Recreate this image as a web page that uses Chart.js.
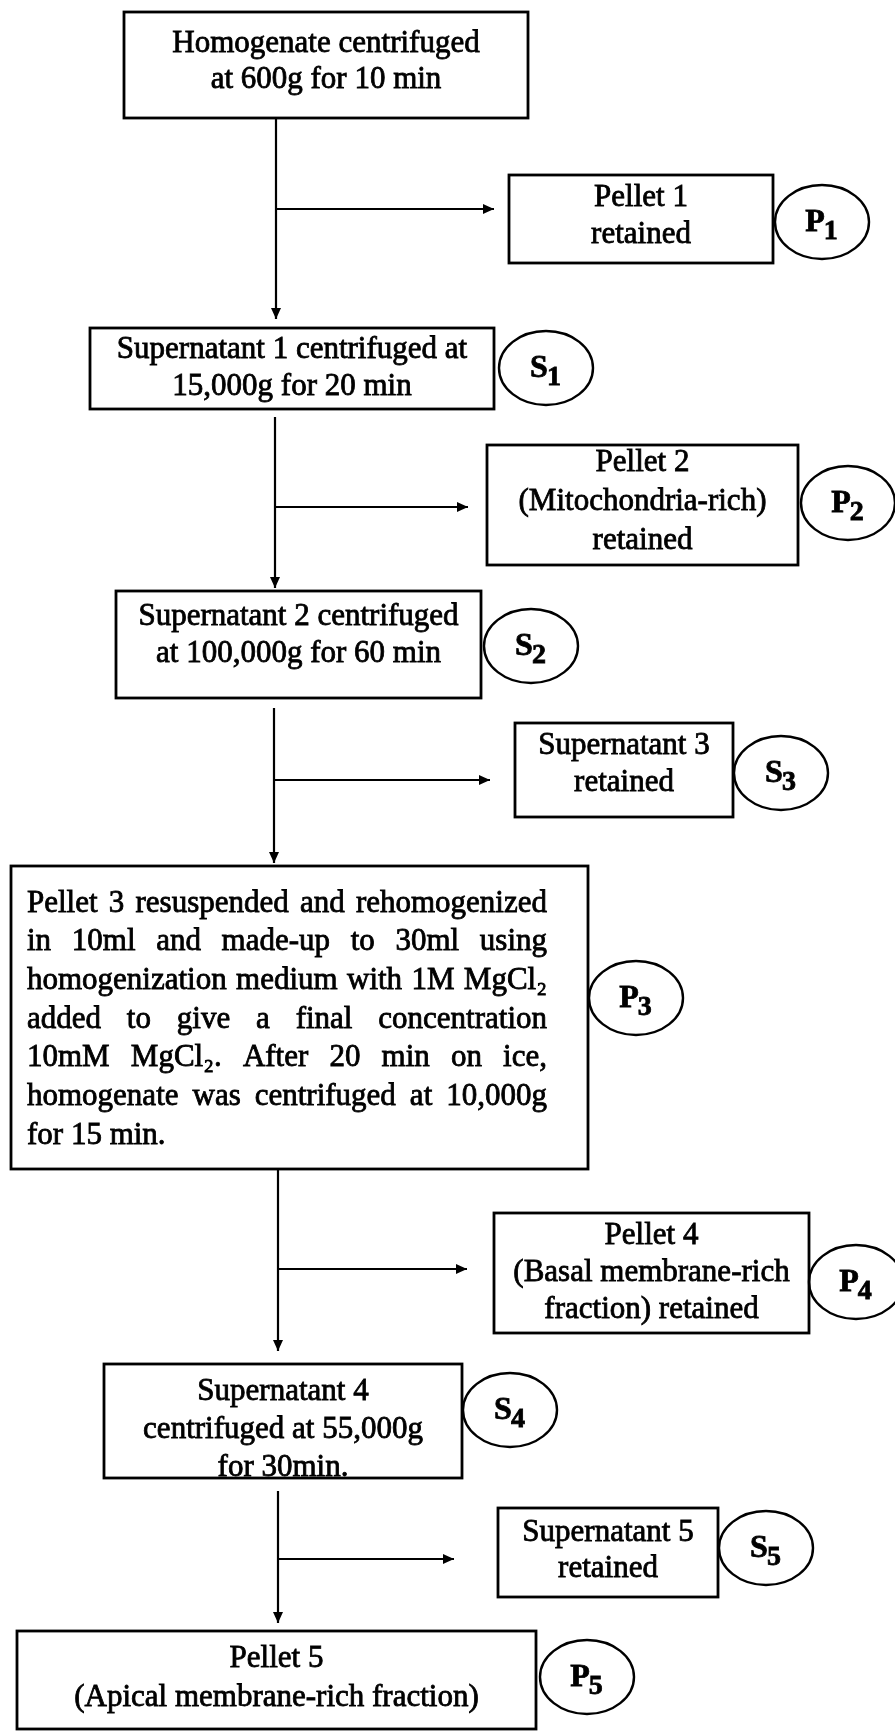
<!DOCTYPE html>
<html>
<head>
<meta charset="utf-8">
<script src="https://cdn.jsdelivr.net/npm/chart.js@4"></script>
<style>
  html, body { margin: 0; padding: 0; background: #fff; }
  canvas { display: block; }
</style>
</head>
<body>
<canvas id="flow" width="895" height="1733"></canvas>
<script>
'use strict';

// text of each box, top to bottom
var stepText = [
    ['Homogenate centrifuged', 'at 600g for 10 min'],
    ['Pellet 1', 'retained'],
    ['Supernatant 1 centrifuged at', '15,000g for 20 min'],
    ['Pellet 2', '(Mitochondria-rich)', 'retained'],
    ['Supernatant 2 centrifuged', 'at 100,000g for 60 min'],
    ['Supernatant 3', 'retained'],
    ['Pellet 3 resuspended and rehomogenized',
     'in 10ml and made-up to 30ml using',
     'homogenization medium with 1M MgCl\u2082',
     'added to give a final concentration',
     '10mM MgCl\u2082. After 20 min on ice,',
     'homogenate was centrifuged at 10,000g',
     'for 15 min.'],
    ['Pellet 4', '(Basal membrane-rich', 'fraction) retained'],
    ['Supernatant 4', 'centrifuged at 55,000g', 'for 30min.'],
    ['Supernatant 5', 'retained'],
    ['Pellet 5', '(Apical membrane-rich fraction)']
];
var justifiedStep = 6;

// fraction tags in the circles
var tagLetter = ['P', 'S', 'P', 'S', 'S', 'P', 'P', 'S', 'S', 'P'];
var tagNumber = ['1', '1', '2', '2', '3', '3', '4', '4', '5', '5'];

// layout, in chart units (x 0..895, y 0..1733 downwards)
var boxLeft   = [124, 509,  90, 487, 116, 515,   11,  494,  104,  498,   17];
var boxTop    = [ 12, 175, 328, 445, 591, 723,  866, 1213, 1364, 1508, 1631];
var boxRight  = [528, 773, 494, 798, 481, 733,  588,  809,  462,  718,  536];
var boxBottom = [118, 263, 409, 565, 698, 817, 1169, 1333, 1478, 1597, 1729];
var textShift = [ -3,  -3,   0,  -3,  -9,  -6,    2,    0,    9,   -2,   -2];
var lineGap   = [ 36,  37,  37,  39,  37,  37, 38.7,   37,   38,   36,   39];

var tagX = [822, 546, 848, 531, 781, 636,  856,  510,  766,  587];
var tagY = [222, 368, 503, 646, 773, 998, 1282, 1410, 1548, 1677];

var trunkX    = [276, 275, 274,  278,  278];
var trunkFrom = [118, 417, 708, 1169, 1491];
var trunkTo   = [319, 588, 863, 1351, 1623];
var branchY   = [209, 507, 780, 1269, 1559];
var branchTo  = [494, 468, 490,  467,  454];

var FONT = "'Liberation Serif', 'Times New Roman', serif";

// connectors as line datasets
var datasets = [];
for (var i = 0; i < trunkX.length; i++) {
    datasets.push({
        data: [{x: trunkX[i], y: trunkFrom[i]}, {x: trunkX[i], y: trunkTo[i]}],
        arrow: 'down'
    });
    datasets.push({
        data: [{x: trunkX[i], y: branchY[i]}, {x: branchTo[i], y: branchY[i]}],
        arrow: 'right'
    });
}
datasets.forEach(function (d) {
    d.showLine = true;
    d.borderColor = '#000';
    d.borderWidth = 2.2;
    d.pointRadius = 0;
    d.fill = false;
});

// scanned print looks a bit heavy, so fill and lightly stroke the text
function inkText(ctx, str, x, y) {
    ctx.fillText(str, x, y);
    ctx.lineWidth = 0.8;
    ctx.strokeText(str, x, y);
}

function justifyText(ctx, str, left, right, y) {
    var words = str.split(' ');
    var used = 0;
    words.forEach(function (w) { used += ctx.measureText(w).width; });
    var gap = (right - left - used) / (words.length - 1);
    var x = left;
    ctx.textAlign = 'left';
    words.forEach(function (w) {
        inkText(ctx, w, x, y);
        x += ctx.measureText(w).width + gap;
    });
}

var flowPlugin = {
    id: 'flow',
    afterDatasetsDraw: function (chart) {
        var ctx = chart.ctx;
        var xs = chart.scales.x;
        var ys = chart.scales.y;
        ctx.save();
        ctx.strokeStyle = '#000';
        ctx.fillStyle = '#000';

        // arrow heads
        chart.data.datasets.forEach(function (d) {
            var end = d.data[d.data.length - 1];
            var ex = xs.getPixelForValue(end.x);
            var ey = ys.getPixelForValue(end.y);
            ctx.beginPath();
            if (d.arrow === 'down') {
                ctx.moveTo(ex, ey);
                ctx.lineTo(ex - 5, ey - 11);
                ctx.lineTo(ex + 5, ey - 11);
            } else {
                ctx.moveTo(ex, ey);
                ctx.lineTo(ex - 11, ey - 5);
                ctx.lineTo(ex - 11, ey + 5);
            }
            ctx.closePath();
            ctx.fill();
        });

        // boxes and their text
        for (var b = 0; b < stepText.length; b++) {
            var l = xs.getPixelForValue(boxLeft[b]);
            var r = xs.getPixelForValue(boxRight[b]);
            var t = ys.getPixelForValue(boxTop[b]);
            var btm = ys.getPixelForValue(boxBottom[b]);
            ctx.lineWidth = 2.8;
            ctx.strokeRect(l, t, r - l, btm - t);

            var lines = stepText[b];
            var cy = (t + btm) / 2 + textShift[b];
            var y0 = cy - (lines.length - 1) * lineGap[b] / 2;
            ctx.font = '31px ' + FONT;
            ctx.textBaseline = 'middle';
            for (var k = 0; k < lines.length; k++) {
                var y = y0 + k * lineGap[b];
                if (b === justifiedStep) {
                    if (k < lines.length - 1) {
                        justifyText(ctx, lines[k], l + 16, r - 41, y);
                    } else {
                        ctx.textAlign = 'left';
                        inkText(ctx, lines[k], l + 16, y);
                    }
                } else {
                    ctx.textAlign = 'center';
                    inkText(ctx, lines[k], (l + r) / 2, y);
                }
            }
        }

        // circled tags
        for (var c = 0; c < tagLetter.length; c++) {
            var tx = xs.getPixelForValue(tagX[c]);
            var ty = ys.getPixelForValue(tagY[c]);
            var ry = Math.abs(ys.getPixelForValue(tagY[c] + 37) - ty);
            var rx = Math.abs(xs.getPixelForValue(tagX[c] + 47) - tx);
            ctx.lineWidth = 2.4;
            ctx.beginPath();
            ctx.ellipse(tx, ty, rx, ry, 0, 0, Math.PI * 2);
            ctx.stroke();

            ctx.textBaseline = 'alphabetic';
            ctx.textAlign = 'left';
            ctx.font = 'bold 32px ' + FONT;
            var wl = ctx.measureText(tagLetter[c]).width;
            ctx.font = 'bold 28px ' + FONT;
            var wn = ctx.measureText(tagNumber[c]).width;
            var sx = tx - (wl + wn) / 2;
            ctx.font = 'bold 32px ' + FONT;
            inkText(ctx, tagLetter[c], sx, ty + 9);
            ctx.font = 'bold 28px ' + FONT;
            inkText(ctx, tagNumber[c], sx + wl - 1, ty + 17);
        }
        ctx.restore();
    }
};

new Chart(document.getElementById('flow'), {
    type: 'scatter',
    data: { datasets: datasets },
    options: {
        responsive: false,
        animation: false,
        events: [],
        layout: { padding: 0 },
        plugins: { legend: { display: false }, tooltip: { enabled: false } },
        scales: {
            x: { type: 'linear', min: 0, max: 895, display: false },
            y: { type: 'linear', min: 0, max: 1733, reverse: true, display: false }
        }
    },
    plugins: [flowPlugin]
});
</script>
</body>
</html>
